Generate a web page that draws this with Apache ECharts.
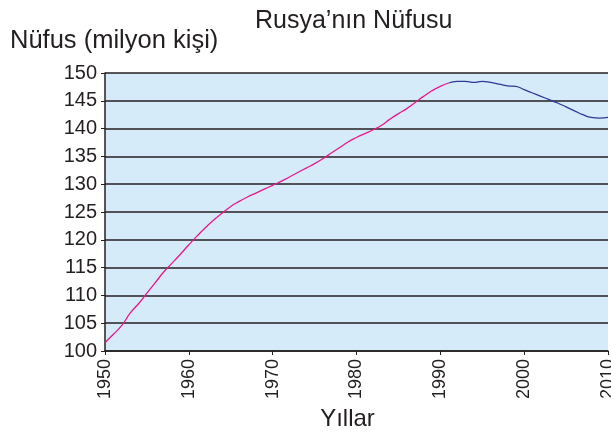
<!DOCTYPE html>
<html>
    <head>
        <title>Rusya'nın Nüfusu</title>
        <meta charset="UTF-8">
        <script src="https://cdn.jsdelivr.net/npm/echarts@6/dist/echarts.min.js"></script>
    </head>
    <body style="margin:0">
    <div id="main" style="width: 611px;height:434px;"></div>
    <script type="text/javascript">
        var years = [1950,1951,1952,1953,1954,1955,1956,1957,1958,1959,
                     1960,1961,1962,1963,1964,1965,1966,1967,1968,1969,
                     1970,1971,1972,1973,1974,1975,1976,1977,1978,1979,
                     1980,1981,1982,1983,1984,1985,1986,1987,1988,1989,
                     1990,1991,1992,1993,1994,1995,1996,1997,1998,1999,
                     2000,2001,2002,2003,2004,2005,2006,2007,2008,2009,2010];
        var population = [101.5,103.0,104.6,106.8,108.5,110.4,112.3,114.2,115.8,117.4,
                          119.1,120.7,122.2,123.6,124.8,126.0,126.9,127.7,128.4,129.1,
                          129.8,130.5,131.3,132.1,132.9,133.7,134.6,135.6,136.6,137.6,
                          138.4,139.1,139.8,140.6,141.7,142.7,143.6,144.7,145.8,146.8,
                          147.6,148.2,148.5,148.5,148.3,148.5,148.3,148.0,147.7,147.6,
                          147.0,146.4,145.8,145.2,144.6,143.9,143.2,142.5,142.0,141.9,142.0];
        var splitYear = 1991;
        var yTicks = [100,105,110,115,120,125,130,135,140,145,150];

        var early = [], late = [];
        for (var i = 0; i < years.length; i++) {
            if (years[i] <= splitYear) early.push([years[i], population[i]]);
            if (years[i] >= splitYear) late.push([years[i], population[i]]);
        }

        var myChart = echarts.init(document.getElementById('main'));
        var font = '"Liberation Sans", Arial, sans-serif';

        var option = {
            backgroundColor: '#FFFFFF',
            animation: false,
            title: [{
                text: 'Rusya’nın Nüfusu',
                left: 250,
                top: 4,
                textStyle: {fontFamily: font, fontSize: 25, fontWeight: 'normal', color: '#231f20'}
            }, {
                text: 'Nüfus (milyon kişi)',
                left: 5,
                top: 23,
                textStyle: {fontFamily: font, fontSize: 25.5, fontWeight: 'normal', color: '#231f20'}
            }],
            grid: {
                left: 105, right: 3, top: 73, bottom: 83,
                outerBoundsMode: 'none',
                containLabel: false,
                show: true, backgroundColor: '#d5ebf9', borderWidth: 0
            },
            xAxis: {
                type: 'value',
                min: 1950, max: 2010, interval: 10,
                name: 'Yıllar',
                nameLocation: 'middle',
                nameGap: 52,
                nameTextStyle: {fontFamily: font, fontSize: 24, color: '#231f20', padding: [0, 18, 0, 0]},
                axisLine: {lineStyle: {color: '#231f20', width: 1.5}},
                axisTick: {show: true, length: 4, lineStyle: {color: '#231f20'}},
                axisLabel: {rotate: 90, margin: 8, fontFamily: font, fontSize: 18, color: '#231f20',
                            formatter: function (v) { return String(v); }},
                splitLine: {show: false}
            },
            yAxis: {
                type: 'value',
                min: yTicks[0], max: yTicks[yTicks.length - 1], interval: 5,
                axisLine: {show: true, lineStyle: {color: '#231f20', width: 1.5}},
                axisTick: {show: true, length: 4, lineStyle: {color: '#231f20'}},
                axisLabel: {margin: 8, fontFamily: font, fontSize: 20, color: '#231f20'},
                splitLine: {show: true, lineStyle: {color: '#231f20', width: 1.5}}
            },
            series: [{
                name: 'early',
                type: 'line',
                data: early,
                smooth: true,
                showSymbol: false,
                lineStyle: {color: '#e6198a', width: 1.3}
            }, {
                name: 'late',
                type: 'line',
                data: late,
                smooth: true,
                showSymbol: false,
                lineStyle: {color: '#2e3a94', width: 1.3}
            }]
        };

        myChart.setOption(option);
    </script>
    </body>
</html>
